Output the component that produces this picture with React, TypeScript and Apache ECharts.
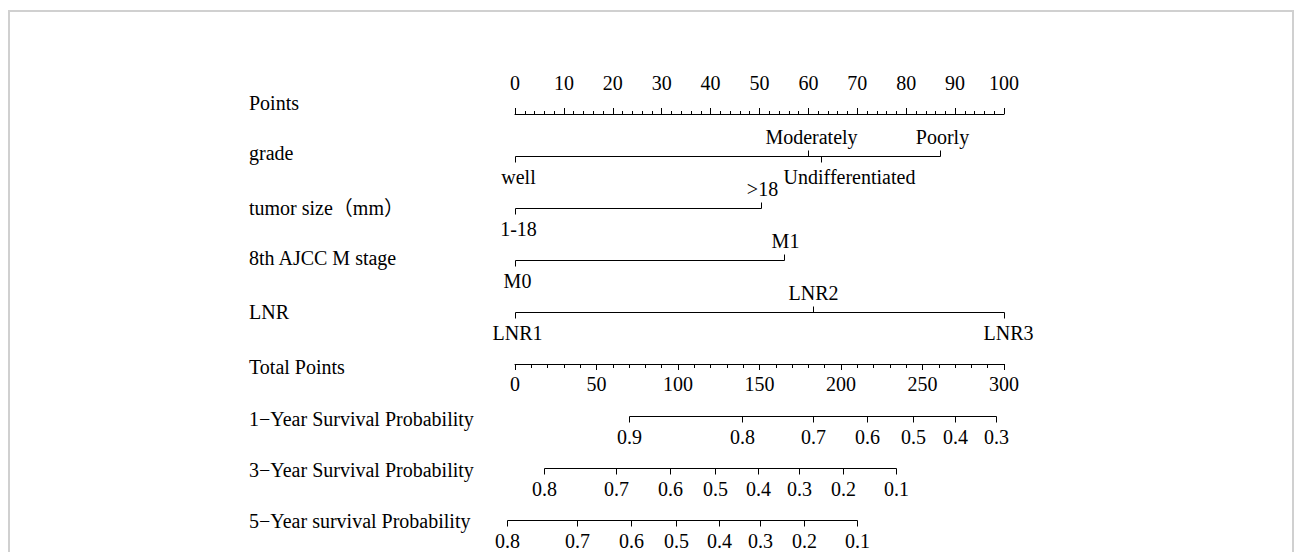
import React, { useEffect, useRef } from 'react';
import * as echarts from 'echarts';

// ---------- data ----------
const rowNames = [
  'Points',
  'grade',
  'tumor size（mm）',
  '8th AJCC M stage',
  'LNR',
  'Total Points',
  '1−Year Survival Probability',
  '3−Year Survival Probability',
  '5−Year survival Probability',
];

const pointsTicks = [0, 10, 20, 30, 40, 50, 60, 70, 80, 90, 100];
const totalTicks = [0, 50, 100, 150, 200, 250, 300];

const gradeLevels = ['well', 'Moderately', 'Undifferentiated', 'Poorly'];
const gradePoints = [0, 60, 62.5, 87];
const tumorLevels = ['1-18', '>18'];
const tumorPoints = [0, 50.3];
const mStageLevels = ['M0', 'M1'];
const mStagePoints = [0, 55];
const lnrLevels = ['LNR1', 'LNR2', 'LNR3'];
const lnrPoints = [0, 61, 100];

const surv1Labels = ['0.9', '0.8', '0.7', '0.6', '0.5', '0.4', '0.3'];
const surv1Total = [70, 139, 183, 216, 244, 270, 295];
const surv3Labels = ['0.8', '0.7', '0.6', '0.5', '0.4', '0.3', '0.2', '0.1'];
const surv3Total = [18, 62, 95, 123, 149, 174, 201, 234];
const surv5Labels = ['0.8', '0.7', '0.6', '0.5', '0.4', '0.3', '0.2', '0.1'];
const surv5Total = [-5, 38, 71, 99, 125, 150, 177, 210];

// ---------- layout / style ----------
const FONT_FAMILY = '"Liberation Serif", "Times New Roman", "Noto Sans CJK SC", serif';
const FONT_SIZE = 20;
const INK = '#000';
const GRID_LEFT = 515;
const GRID_RIGHT = 292;
const LABEL_X = 249;
const TICK = 6;
const LABEL_GAP = 20;
// vertical nudge (px) of each row name relative to its axis line
const rowNameShift = [-1, -3, 0, -2, 0, 3, 3, 2, 1];

const predictorRows = [
  { row: 1, labels: gradeLevels, values: gradePoints, sides: ['below', 'above', 'below', 'above'], dx: [3, 3, 28, 2] },
  { row: 2, labels: tumorLevels, values: tumorPoints, sides: ['below', 'above'], dx: [3, 1] },
  { row: 3, labels: mStageLevels, values: mStagePoints, sides: ['below', 'above'], dx: [2, 1] },
  { row: 4, labels: lnrLevels, values: lnrPoints, sides: ['below', 'above', 'below'], dx: [2, 0, 4] },
];

const survivalRows = [
  { row: 6, labels: surv1Labels, values: surv1Total },
  { row: 7, labels: surv3Labels, values: surv3Total },
  { row: 8, labels: surv5Labels, values: surv5Total },
];

const crisp = (v: number) => Math.round(v) + 0.5;

function buildRow(api: any, row: number, labels: string[], values: number[], sides: string[], dx: number[]) {
  const yC = crisp(api.coord([values[0], row])[1]);
  const xs = values.map((v) => crisp(api.coord([v, row])[0]));
  const minX = Math.min(...xs);
  const maxX = Math.max(...xs);
  const children: any[] = [
    {
      type: 'line',
      shape: { x1: minX, y1: yC, x2: maxX, y2: yC },
      style: { stroke: INK, lineWidth: 1 },
    },
  ];
  xs.forEach((x, i) => {
    const dir = sides[i] === 'above' ? -1 : 1;
    children.push({
      type: 'line',
      shape: { x1: x, y1: yC, x2: x, y2: yC + dir * TICK },
      style: { stroke: INK, lineWidth: 1 },
    });
    children.push({
      type: 'text',
      x: x + (dx[i] || 0),
      y: yC + dir * LABEL_GAP,
      style: {
        text: labels[i],
        fill: INK,
        font: `${FONT_SIZE}px ${FONT_FAMILY}`,
        textAlign: 'center',
        textVerticalAlign: 'middle',
        align: 'center',
        verticalAlign: 'middle',
      },
    });
  });
  return { type: 'group', children };
}

export default function App() {
  const ref = useRef<HTMLDivElement>(null);

  useEffect(() => {
    if (!ref.current) return;
    const chart = echarts.init(ref.current, undefined, { renderer: 'svg' });

    const axisText = { fontFamily: FONT_FAMILY, fontSize: FONT_SIZE, color: INK };

    const rich: any = {};
    rowNameShift.forEach((s, i) => {
      rich['r' + i] = {
        ...axisText,
        padding: s < 0 ? [0, 0, -2 * s, 0] : [2 * s, 0, 0, 0],
      };
    });

    const option: any = {
      animation: false,
      backgroundColor: '#fff',
      graphic: [
        {
          type: 'rect',
          shape: { x: 9, y: 11, width: 1284, height: 620 },
          style: { fill: 'none', stroke: '#d0d0d0', lineWidth: 2 },
          silent: true,
        },
      ],
      grid: [
        { left: GRID_LEFT, right: GRID_RIGHT, top: 104, height: 10 },
        { left: GRID_LEFT, right: GRID_RIGHT, top: 354, height: 10 },
        { left: GRID_LEFT, right: GRID_RIGHT, top: 78, height: 468 },
      ],
      xAxis: [
        {
          gridIndex: 0,
          type: 'value',
          position: 'top',
          min: pointsTicks[0],
          max: pointsTicks[pointsTicks.length - 1],
          interval: pointsTicks[1] - pointsTicks[0],
          axisLine: { show: true, lineStyle: { color: INK, width: 1 } },
          axisTick: { show: true, length: 6, lineStyle: { color: INK, width: 1 } },
          minorTick: { show: true, splitNumber: 5, length: 3, lineStyle: { color: INK, width: 1 } },
          splitLine: { show: false },
          minorSplitLine: { show: false },
          axisLabel: { ...axisText, margin: 11 },
        },
        {
          gridIndex: 1,
          type: 'value',
          position: 'bottom',
          min: totalTicks[0],
          max: totalTicks[totalTicks.length - 1],
          interval: totalTicks[1] - totalTicks[0],
          axisLine: { show: true, lineStyle: { color: INK, width: 1 } },
          axisTick: { show: true, length: 6, lineStyle: { color: INK, width: 1 } },
          minorTick: { show: true, splitNumber: 5, length: 4, lineStyle: { color: INK, width: 1 } },
          splitLine: { show: false },
          minorSplitLine: { show: false },
          axisLabel: { ...axisText, margin: 10 },
        },
        {
          gridIndex: 2,
          type: 'value',
          min: pointsTicks[0],
          max: pointsTicks[pointsTicks.length - 1],
          show: false,
        },
        {
          gridIndex: 2,
          type: 'value',
          position: 'top',
          min: totalTicks[0],
          max: totalTicks[totalTicks.length - 1],
          show: false,
        },
      ],
      yAxis: [
        { gridIndex: 0, type: 'value', show: false },
        { gridIndex: 1, type: 'value', show: false },
        {
          gridIndex: 2,
          type: 'category',
          inverse: true,
          data: rowNames,
          axisLine: { show: false },
          axisTick: { show: false },
          splitLine: { show: false },
          axisLabel: {
            ...axisText,
            interval: 0,
            align: 'left',
            margin: GRID_LEFT - LABEL_X,
            formatter: (v: string, i: number) => `{r${i}|${v}}`,
            rich,
          },
        },
      ],
      series: [
        {
          type: 'custom',
          xAxisIndex: 2,
          yAxisIndex: 2,
          clip: false,
          data: predictorRows.map((r) => [0, r.row]),
          renderItem: (params: any, api: any) => {
            const r = predictorRows[params.dataIndex];
            return buildRow(api, r.row, r.labels, r.values, r.sides, r.dx);
          },
        },
        {
          type: 'custom',
          xAxisIndex: 3,
          yAxisIndex: 2,
          clip: false,
          data: survivalRows.map((r) => [0, r.row]),
          renderItem: (params: any, api: any) => {
            const r = survivalRows[params.dataIndex];
            return buildRow(api, r.row, r.labels, r.values, r.labels.map(() => 'below'), []);
          },
        },
      ],
    };

    chart.setOption(option);
    return () => chart.dispose();
  }, []);

  return (
    <div
      ref={ref}
      style={{ position: 'fixed', left: 0, top: 0, width: 1296, height: 552, background: '#fff' }}
    />
  );
}
